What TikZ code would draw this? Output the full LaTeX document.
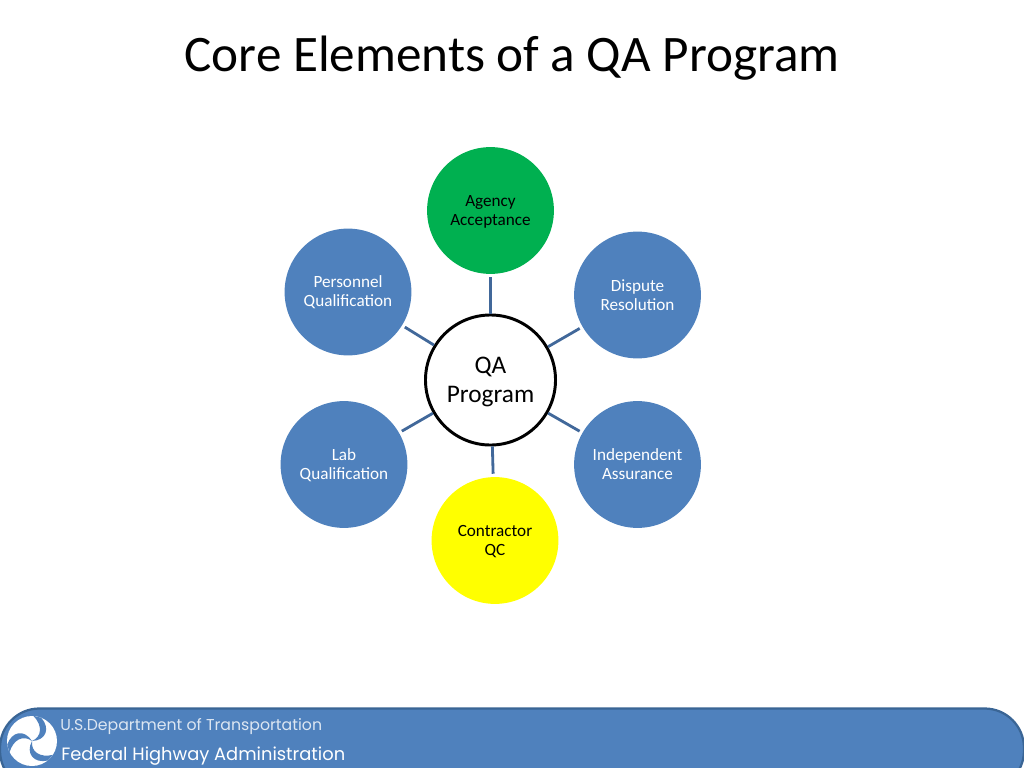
\documentclass[tikz,border=0pt]{standalone}
\usepackage{fontspec}
\setmainfont{Carlito}
\newfontfamily\dotfont{Poppins}
\usepackage{xcolor}
\definecolor{slideblue}{HTML}{4F81BD}
\definecolor{slideedge}{HTML}{3A6595}
\definecolor{spokeblue}{HTML}{41689A}
\definecolor{agencygreen}{HTML}{00B050}
\definecolor{contractoryellow}{HTML}{FFFF00}
\tikzset{
    element/.style={circle, minimum size=3.17cm, inner sep=0pt, align=center, text=white, font=\fontsize{12.2}{13.5}\selectfont},
    hub/.style={circle, draw=black, line width=2.1pt, fill=white, minimum size=3.25cm, inner sep=0pt, align=center, font=\fontsize{18}{20}\selectfont},
    spoke/.style={draw=spokeblue, line width=2pt, shorten >=2.2pt},
}
\begin{document}
\begin{tikzpicture}[x=0.025cm,y=-0.025cm]

\useasboundingbox (0,0) rectangle (1024,768);

\node[font=\fontsize{36.4}{42}\selectfont] (title) at (512,58) {Core Elements of a QA Program};

% Hub and elements
\node[hub] (qa) at (490.5,380) {\rule{0pt}{14.5pt}QA\\Program};
\node[element, fill=agencygreen, text=black] (agency) at (490.5,210.5) {\rule{0pt}{10pt}Agency\\Acceptance};
\node[element, fill=slideblue] (dispute) at (637.5,295) {Dispute\\Resolution};
\node[element, fill=slideblue] (independent) at (637.5,464.5) {Independent\\Assurance};
\node[element, fill=contractoryellow, text=black] (contractor) at (495,540.5) {\rule{0pt}{10pt}Contractor\\QC};
\node[element, fill=slideblue] (lab) at (344,464.5) {\rule{0pt}{10pt}Lab\\Qualification};
\node[element, fill=slideblue] (personnel) at (348,292) {Personnel\\Qualification};

% Spokes
\foreach \name in {agency,dispute,independent,contractor,lab,personnel} {
    \draw[spoke] (qa) -- (\name);
}

% Footer banner
\fill[slideblue, draw=slideedge, line width=1.6pt, rounded corners=28] (0,790) -- (0,708.5) -- (1024,708.5) -- (1024,790) -- cycle;

% Logo
\fill[white] (32,741) circle[radius=25];
\foreach \a in {-10,110,230} {
    \fill[slideblue, rotate around={\a:(32,741)}] (32,741) .. controls (41,735) and (40,724) .. (29,716) -- (37,716.5) .. controls (48,725) and (46,738) .. (32,741) -- cycle;
}

\node[font=\dotfont\fontsize{11.2}{14}\selectfont, text=white!80!slideblue, anchor=west, inner sep=0pt] (dept) at (60,726.5) {U.S.Department of Transportation};
\node[font=\dotfont\fontsize{12.7}{16}\selectfont, text=white, anchor=west, inner sep=0pt] (fhwa) at (61,756) {Federal Highway Administration};

\end{tikzpicture}
\end{document}
